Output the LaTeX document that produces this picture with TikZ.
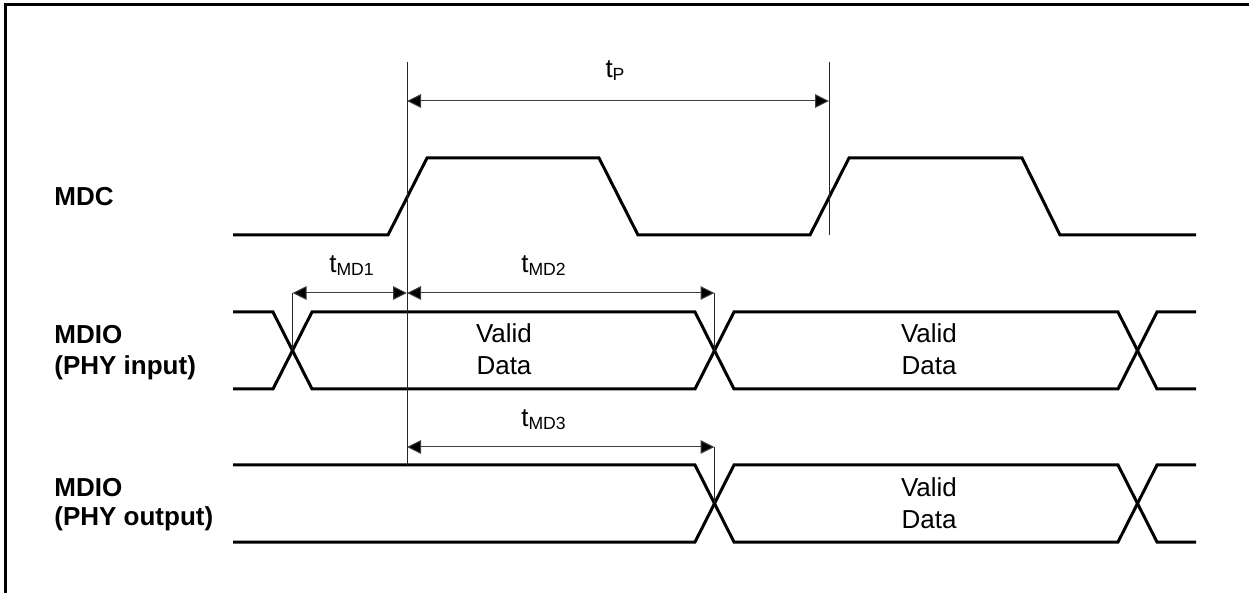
\documentclass[tikz,border=0pt]{standalone}
\usepackage{fontspec}
\setmainfont{Liberation Sans}
\usetikzlibrary{arrows.meta}
\newcommand{\tsub}[1]{t\raisebox{-1.3pt}{\fontsize{8.8}{9}\selectfont #1}}
\begin{document}
\begin{tikzpicture}[x=0.5pt,y=-0.5pt,
  sig/.style={line width=1.5pt, line join=miter},
  guide/.style={line width=0.5pt, draw=black!85},
  dimline/.style={line width=0.5pt, draw=black!75,
    {Triangle[length=7pt,width=6.8pt,fill=black]}-{Triangle[length=7pt,width=6.8pt,fill=black]}},
  siglabel/.style={font=\fontsize{13}{15.5}\selectfont\bfseries, align=left, anchor=north west, inner sep=0pt},
  datalabel/.style={font=\fontsize{13}{16.2}\selectfont, align=center, anchor=north, inner sep=0pt},
  timelabel/.style={font=\fontsize{13}{14}\selectfont, anchor=base, inner sep=0pt}]
\useasboundingbox (0,0) rectangle (1249,593);
% frame (only top and left edges are visible)
\draw[line width=1.5pt] (5.5,593) -- (5.5,4.5) -- (1249,4.5);

% signal labels
\node[siglabel] (mdc) at (54,186.5) {MDC};
\node[siglabel] (mdioin) at (54,324.5) {MDIO\\(PHY input)};
\node[siglabel, font=\fontsize{13}{14.3}\selectfont\bfseries] (mdioout) at (54,478) {MDIO\\(PHY output)};

% MDC clock
\draw[sig] (233,235) -- (388,235) -- (427,158) -- (599,158) -- (638,235) -- (810,235)
  -- (849,158) -- (1022,158) -- (1060,235) -- (1196,235);

% MDIO (PHY input)
\draw[sig] (233,312) -- (273,312) -- (312,389) -- (695,389) -- (734,312) -- (1118,312)
  -- (1157,389) -- (1196,389);
\draw[sig] (233,389) -- (273,389) -- (312,312) -- (695,312) -- (734,389) -- (1118,389)
  -- (1157,312) -- (1196,312);

% MDIO (PHY output)
\draw[sig] (233,465) -- (695,465) -- (734,542) -- (1118,542) -- (1157,465) -- (1196,465);
\draw[sig] (233,542) -- (695,542) -- (734,465) -- (1118,465) -- (1157,542) -- (1196,542);

% data labels
\node[datalabel] (vd1) at (504,323) {Valid\\Data};
\node[datalabel] (vd2) at (929,323) {Valid\\Data};
\node[datalabel] (vd3) at (929,477) {Valid\\Data};

% reference coordinates
\coordinate (r1top) at (407,62);
\coordinate (r1bot) at (407,465);
\coordinate (r2top) at (829,62);
\coordinate (r2bot) at (829,235);
\coordinate (x1top) at (292.5,293);
\coordinate (x1mid) at (292.5,350.5);
\coordinate (x2top) at (714.5,293);
\coordinate (x2mid) at (714.5,350.5);
\coordinate (x3top) at (714.5,447);
\coordinate (x3mid) at (714.5,503.5);
\coordinate (tpa) at (407,101);
\coordinate (tpb) at (829,101);
\coordinate (m1a) at (292.5,293);
\coordinate (m1b) at (407,293);
\coordinate (m2b) at (714.5,293);
\coordinate (m3a) at (407,447);
\coordinate (m3b) at (714.5,447);

% guide lines
\draw[guide] (r1top) -- (r1bot);
\draw[guide] (r2top) -- (r2bot);
\draw[guide] (x1top) -- (x1mid);
\draw[guide] (x2top) -- (x2mid);
\draw[guide] (x3top) -- (x3mid);

% dimension arrows
\draw[dimline] (tpa) -- (tpb);
\draw[dimline] (m1a) -- (m1b);
\draw[dimline] (m1b) -- (m2b);
\draw[dimline] (m3a) -- (m3b);

% timing labels
\node[timelabel] (ltp) at (615,78) {\tsub{P}};
\node[timelabel] (lmd1) at (351.5,273) {\tsub{MD1}};
\node[timelabel] (lmd2) at (543.5,273) {\tsub{MD2}};
\node[timelabel] (lmd3) at (543.5,426.5) {\tsub{MD3}};
\end{tikzpicture}
\end{document}
